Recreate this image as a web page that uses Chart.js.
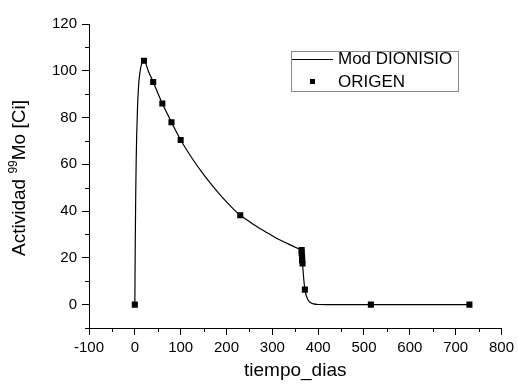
<!DOCTYPE html>
<html>
<head>
<meta charset="utf-8">
<script src="https://cdn.jsdelivr.net/npm/chart.js@4"></script>
<style>
  html, body { margin: 0; padding: 0; background: #fff; }
  #wrap { width: 518px; height: 385px; position: relative; }
</style>
</head>
<body>
<div id="wrap"><canvas id="c" width="518" height="385"></canvas></div>
<script>
// ---- data ----
const modelT = [0, 1, 2, 3, 4, 6, 8, 10, 13, 16, 20, 30, 40, 50, 60, 70, 80, 90, 100, 115, 130, 145, 160, 175, 190, 210, 230, 245, 260, 275, 290, 310, 327, 345, 355, 363, 364, 365, 366, 369, 371, 374, 378, 383, 390, 400, 420, 500, 600, 730];
const modelV = [0, 28, 48, 62, 72, 85, 93, 97.5, 101.5, 103.5, 104.3, 99.6, 95.2, 90.5, 86, 81.9, 78, 74.1, 70.4, 65.6, 61.1, 57.0, 53.1, 49.5, 46.1, 41.9, 38.2, 36.2, 34.1, 32.3, 30.6, 28.3, 26.7, 25.0, 24.1, 23.4, 23.3, 20.5, 17.5, 10, 6.5, 3.8, 2, 0.9, 0.3, 0.05, 0, 0, 0, 0];
const origenT = [0, 20, 40, 60, 80, 100, 230, 364, 364, 365, 365, 366, 371, 515, 730];
const origenV = [0, 104.3, 95.2, 86, 78, 70.4, 38.2, 23.3, 22, 20.5, 19, 17.6, 6.4, 0, 0];
const xMajorTicks = [-100, 0, 100, 200, 300, 400, 500, 600, 700, 800];
const xMinorTicks = [-50, 50, 150, 250, 350, 450, 550, 650, 750];
const yMajorTicks = [0, 20, 40, 60, 80, 100, 120];
const yMinorTicks = [-10, 10, 30, 50, 70, 90, 110];
const seriesNames = ['Mod DIONISIO', 'ORIGEN'];

const FONT = "'Liberation Sans', Arial, sans-serif";

const extras = {
  id: 'extras',
  afterDraw(chart) {
    const ctx = chart.ctx;
    const xs = chart.scales.x, ys = chart.scales.y;
    ctx.save();
    // minor ticks
    ctx.strokeStyle = '#000';
    ctx.lineWidth = 1;
    ctx.beginPath();
    xMinorTicks.forEach(v => {
      const px = Math.round(xs.getPixelForValue(v)) + 0.5;
      ctx.moveTo(px, xs.top); ctx.lineTo(px, xs.top + 4);
    });
    yMinorTicks.forEach(v => {
      const py = Math.round(ys.getPixelForValue(v)) + 0.5;
      ctx.moveTo(ys.right, py); ctx.lineTo(ys.right - 4, py);
    });
    ctx.stroke();

    // y axis title with superscript
    ctx.fillStyle = '#000';
    ctx.translate(20, (chart.chartArea.top + chart.chartArea.bottom) / 2 + 2);
    ctx.rotate(-Math.PI / 2);
    ctx.textBaseline = 'middle';
    const big = "19px " + FONT, small = "12px " + FONT;
    const p1 = 'Actividad ', p2 = '99', p3 = 'Mo [Ci]';
    ctx.font = big; const w1 = ctx.measureText(p1).width, w3 = ctx.measureText(p3).width;
    ctx.font = small; const w2 = ctx.measureText(p2).width;
    let x0 = -(w1 + w2 + w3) / 2;
    ctx.font = big; ctx.fillText(p1, x0, 0);
    ctx.font = small; ctx.fillText(p2, x0 + w1, -6);
    ctx.font = big; ctx.fillText(p3, x0 + w1 + w2, 0);
    ctx.restore();

    // legend box
    ctx.save();
    ctx.strokeStyle = '#8a8a8a';
    ctx.lineWidth = 1;
    ctx.strokeRect(291.5, 51.5, 167, 40);
    ctx.strokeStyle = '#000';
    ctx.lineWidth = 1.2;
    ctx.beginPath(); ctx.moveTo(292, 59.5); ctx.lineTo(333, 59.5); ctx.stroke();
    ctx.fillStyle = '#000';
    ctx.fillRect(310, 79, 5, 5);
    ctx.font = "17px " + FONT;
    ctx.textBaseline = 'middle';
    ctx.fillText(seriesNames[0], 338, 59);
    ctx.fillText(seriesNames[1], 338, 82);
    ctx.restore();
  }
};

new Chart(document.getElementById('c'), {
  type: 'scatter',
  data: {
    datasets: [
      {
        label: seriesNames[0],
        type: 'line',
        data: modelT.map((t, i) => ({ x: t, y: modelV[i] })),
        borderColor: '#000',
        borderWidth: 1.2,
        pointRadius: 0,
        fill: false,
        cubicInterpolationMode: 'monotone',
        order: 2
      },
      {
        label: seriesNames[1],
        data: origenT.map((t, i) => ({ x: t, y: origenV[i] })),
        pointStyle: 'rect',
        pointRadius: 4.3,
        backgroundColor: '#000',
        borderColor: '#000',
        borderWidth: 0,
        showLine: false,
        order: 1
      }
    ]
  },
  options: {
    responsive: false,
    animation: false,
    devicePixelRatio: 1,
    layout: { padding: { top: 24, right: 15, left: 0, bottom: 0 } },
    plugins: { legend: { display: false }, tooltip: { enabled: false } },
    scales: {
      x: {
        type: 'linear',
        min: -100, max: 800,
        afterFit: s => { s.height = 57; },
        afterBuildTicks: s => { s.ticks = xMajorTicks.map(v => ({ value: v })); },
        grid: { drawOnChartArea: false, drawTicks: true, tickLength: 7, color: '#000' },
        border: { display: true, color: '#000', width: 1 },
        ticks: { color: '#000', font: { family: FONT, size: 15 }, padding: 4, maxRotation: 0, autoSkip: false },
        title: { display: true, text: 'tiempo_dias', color: '#000', font: { family: FONT, size: 19 }, padding: { top: 0, bottom: 3 } }
      },
      y: {
        type: 'linear',
        min: -10, max: 120,
        afterFit: s => { s.width = 89; },
        afterBuildTicks: s => { s.ticks = yMajorTicks.map(v => ({ value: v })); },
        grid: { drawOnChartArea: false, drawTicks: true, tickLength: 7, color: '#000' },
        border: { display: true, color: '#000', width: 1 },
        ticks: { color: '#000', font: { family: FONT, size: 15 }, padding: 5, autoSkip: false }
      }
    }
  },
  plugins: [extras]
});
</script>
</body>
</html>
